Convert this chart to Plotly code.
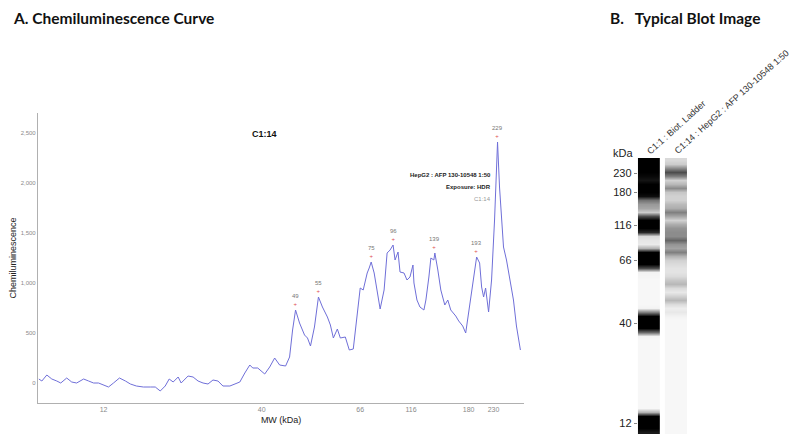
import plotly.graph_objects as go

# --- Chemiluminescence trace (migration position vs signal) ---
position = [1, 4, 9, 14, 19, 23, 29, 34, 39, 46, 51, 56, 61, 66, 71, 76, 82, 88, 93, 99,
            106, 113, 118, 123, 128, 132, 136, 141, 144, 151, 156, 161, 166, 171, 176, 181,
            186, 193, 198, 203, 208, 213, 216, 221, 228, 233, 238, 243, 249, 253, 256, 259,
            263, 268, 271, 274, 278, 282, 286, 291, 294, 297, 301, 304, 309, 313, 317, 321,
            324, 327, 331, 333, 335, 338, 341, 344, 348, 351, 354, 357, 359, 362, 364, 368,
            371, 374, 377, 378, 381, 384, 388, 390, 393, 395, 398, 399, 402, 405, 409, 412,
            415, 418, 420, 423, 427, 430, 433, 438, 441, 444, 446, 448, 450, 453, 456, 459,
            462, 464, 468, 471, 474, 478, 481, 485]
signal = [40, 20, 80, 40, 20, 0, 50, 10, 0, 40, 20, 0, 0, -20, -40, 0, 50, 20, -10, -30,
          -40, -40, -40, -80, -30, 40, 10, 60, 0, 70, 60, 20, 0, -10, 30, 20,
          -30, -30, -10, 10, 100, 180, 150, 150, 90, 160, 250, 180, 170, 260, 530, 730,
          600, 480, 450, 370, 560, 860, 760, 660, 580, 450, 540, 450, 460, 330, 340, 700,
          950, 930, 1100, 1150, 1210, 1100, 910, 740, 930, 1300, 1330, 1380, 1230, 1310, 1110, 1100,
          1030, 1060, 1180, 1000, 830, 760, 730, 830, 1060, 1250, 1230, 1300, 1130, 930, 780, 830,
          730, 700, 670, 620, 570, 500, 700, 1060, 1260, 1200, 960, 860, 950, 710, 1030, 1630,
          2410, 1960, 1360, 1230, 1060, 830, 570, 330]

mw_tick_pos = [66, 225, 324, 375, 433, 458]
mw_tick_text = ['12', '40', '66', '116', '180', '230']

peak_pos = [259, 282, 335, 357, 399, 441, 462]
peak_val = [730, 860, 1210, 1380, 1300, 1260, 2410]
peak_label = ['49', '55', '75', '96', '139', '193', '229']

# --- Blot lanes (row position, band intensity 0=white 1=black) ---
blot_rows = list(range(160, 433, 4))
ladder_lane = [1.0, 1.0, 1.0, 1.0, 0.97, 0.92, 1.0, 1.0, 1.0, 0.95,
               0.55, 0.4, 0.35, 0.2, 0.7, 1.0, 1.0, 1.0, 0.85, 0.15,
               0.1, 0.08, 0.3, 1.0, 1.0, 1.0, 1.0, 0.7, 0.05, 0.04,
               0.03, 0.03, 0.03, 0.03, 0.03, 0.03, 0.03, 0.05, 0.5, 1.0,
               1.0, 1.0, 1.0, 0.6, 0.05, 0.03, 0.03, 0.03, 0.03, 0.03,
               0.03, 0.03, 0.03, 0.03, 0.03, 0.03, 0.03, 0.03, 0.03, 0.03,
               0.03, 0.03, 0.03, 0.3, 1.0, 1.0, 1.0, 1.0, 0.9]
sample_lane = [0.15, 0.2, 0.45, 0.7, 0.5, 0.18, 0.28, 0.45, 0.22, 0.18,
               0.18, 0.27, 0.32, 0.5, 0.35, 0.18, 0.32, 0.42, 0.45, 0.45,
               0.6, 0.42, 0.36, 0.5, 0.3, 0.18, 0.14, 0.11, 0.11, 0.14,
               0.22, 0.28, 0.14, 0.09, 0.18, 0.28, 0.14, 0.07, 0.09, 0.05,
               0.03, 0.03, 0.03, 0.03, 0.03, 0.03, 0.03, 0.03, 0.03, 0.03,
               0.03, 0.03, 0.03, 0.03, 0.03, 0.03, 0.03, 0.03, 0.03, 0.03,
               0.03, 0.03, 0.03, 0.03, 0.03, 0.03, 0.03, 0.03, 0.03]
ladder_pos = [173, 192, 225, 260, 323, 423]
ladder_text = ['230', '180', '116', '66', '40', '12']
lane_names = ['C1:1 : Biot. Ladder', 'C1:14 : HepG2 : AFP 130-10548 1:50']

# page body keeps an 8px margin, so the figure sits at (8, 8) in the window
OX, OY = 8, 8
W, H = 800 - OX, 437 - OY


def px(x):
    return (x - OX) / W


def py(y):
    return 1 - (y - OY) / H


FONT = 'Liberation Sans'
grey_txt = '#8a8a8a'

fig = go.Figure()

fig.add_trace(go.Scatter(
    x=position, y=signal, mode='lines',
    line=dict(color='#6f6fd8', width=1),
    hoverinfo='skip', showlegend=False
))

# one heatmap per lane so vertical smoothing does not bleed across lanes
for i, lane in enumerate([ladder_lane, sample_lane]):
    fig.add_trace(go.Heatmap(
        x=[i - 0.2, i + 0.2], y=blot_rows,
        z=[[v, v] for v in lane],
        colorscale=[[0, 'white'], [1, 'black']], zmin=0, zmax=1,
        zsmooth='best', showscale=False,
        xaxis='x2', yaxis='y2', hoverinfo='skip'
    ))

# peak labels with small red markers
for p, v, lab in zip(peak_pos, peak_val, peak_label):
    fig.add_annotation(
        x=p, y=v, xref='x', yref='y', showarrow=False,
        text=f"{lab}<br><span style='color:#e05050'>+</span>",
        xanchor='center', yanchor='bottom', yshift=1,
        font=dict(family=FONT, size=6, color='#777')
    )

# sample info box
info = [("<b>HepG2 : AFP 130-10548 1:50</b>", '#222', 175),
        ("<b>Exposure: HDR</b>", '#222', 187),
        ("C1:14", '#999', 199)]
for txt, col, yy in info:
    fig.add_annotation(x=px(491), y=py(yy), xref='paper', yref='paper',
                       text=txt, showarrow=False, xanchor='right', yanchor='middle',
                       font=dict(family=FONT, size=6, color=col))

# headers (kept just inside the figure's top edge)
for hx, htxt in [(8, '<b>A. Chemiluminescence Curve</b>'),
                 (608, '<b>B.   Typical Blot Image</b>')]:
    fig.add_annotation(x=px(hx), y=py(8), xref='paper', yref='paper',
                       text=htxt, showarrow=False, borderpad=0,
                       xanchor='left', yanchor='top',
                       font=dict(family='Lato', size=15.5, color='#111'))

fig.add_annotation(x=px(262), y=py(134), xref='paper', yref='paper',
                   text='<b>C1:14</b>', showarrow=False,
                   xanchor='center', yanchor='middle',
                   font=dict(family=FONT, size=9, color='#111'))

# blot lane labels and kDa
fig.add_annotation(x=px(622), y=py(153), xref='paper', yref='paper',
                   text='kDa', showarrow=False,
                   xanchor='center', yanchor='middle',
                   font=dict(family=FONT, size=11, color='#222'))
for i, name in enumerate(lane_names):
    fig.add_annotation(x=px(642 + 27 * i), y=py(159), xref='paper', yref='paper',
                       text=name, showarrow=False, textangle=-42,
                       xanchor='left', yanchor='bottom',
                       font=dict(family=FONT, size=9, color='#333'))

fig.update_layout(
    width=W, height=H,
    margin=dict(l=0, r=0, t=0, b=0),
    plot_bgcolor='white', paper_bgcolor='white',
    showlegend=False,
    xaxis=dict(
        domain=[px(34), px(523)], range=[0, 489],
        tickvals=mw_tick_pos, ticktext=mw_tick_text,
        showgrid=False, zeroline=False, showline=True,
        linecolor='#b0b0b0', linewidth=1, ticks='',
        tickfont=dict(family=FONT, size=7, color=grey_txt),
        title=dict(text='MW (kDa)', standoff=4,
                   font=dict(family=FONT, size=9, color='#222'))
    ),
    yaxis=dict(
        domain=[py(403), py(113)], range=[-200, 2700],
        tickvals=[0, 500, 1000, 1500, 2000, 2500], tickformat=',',
        showgrid=False, zeroline=False, showline=True,
        linecolor='#b0b0b0', linewidth=1, ticks='',
        tickfont=dict(family=FONT, size=6, color=grey_txt),
        title=dict(text='Chemiluminescence', standoff=6,
                   font=dict(family=FONT, size=9, color='#222'))
    ),
    xaxis2=dict(
        domain=[px(637), px(688)], range=[-0.4, 1.47],
        showticklabels=False, showgrid=False, zeroline=False, showline=False,
        anchor='y2'
    ),
    yaxis2=dict(
        domain=[py(434), py(158)], range=[434, 158],
        tickvals=ladder_pos, ticktext=ladder_text,
        ticks='outside', ticklen=3, tickcolor='#888',
        showgrid=False, zeroline=False, showline=False,
        tickfont=dict(family=FONT, size=11, color='#222'),
        anchor='x2'
    ),
)

fig.write_html("out.html")
